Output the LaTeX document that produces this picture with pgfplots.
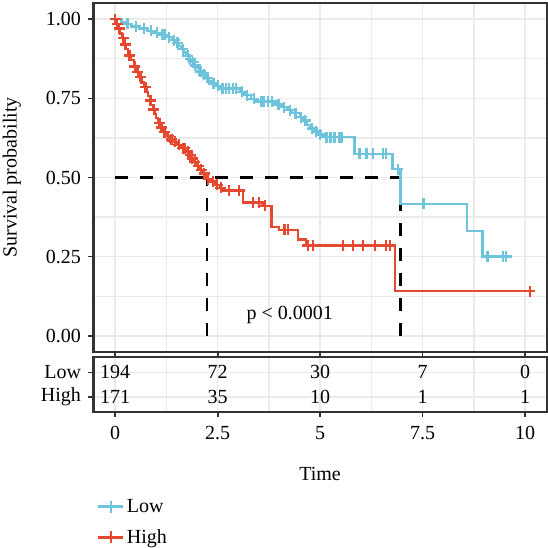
\documentclass[border=0pt]{standalone}
\usepackage{fontspec}
\setmainfont{Liberation Serif}
\usepackage{pgfplots}
\pgfplotsset{compat=1.18}
\definecolor{lowc}{HTML}{6EC4DB}
\definecolor{highc}{HTML}{E5492F}
\definecolor{gridc}{HTML}{EBEBEB}
\definecolor{axc}{HTML}{333333}
\pgfplotsset{
  every axis/.append style={font=\fontsize{20bp}{24bp}\selectfont},
  kmbase/.style={
    scale only axis, width=453bp,
    xmin=-0.53, xmax=10.52,
    xtick={0,2.5,5,7.5,10},
    minor xtick={1.25,3.75,6.25,8.75},
    tick align=outside, xtick pos=bottom, ytick pos=left,
    major tick length=5bp, minor tick length=0bp,
    tick style={line width=1.6bp, color=axc},
    axis line style={line width=2bp, color=axc},
    major grid style={line width=1.5bp, color=gridc},
    minor grid style={line width=1.2bp, color=gridc},
    yticklabel style={xshift=-4bp},
    /pgf/number format/assume math mode=true,
  },
}
\begin{document}
\begin{tikzpicture}
\useasboundingbox (0,0) rectangle (548bp,548bp);
% ---------- main survival panel ----------
\begin{axis}[kmbase,
  at={(93.5bp,196.3bp)}, anchor=south west,
  height=348.4bp,
  ymin=-0.05, ymax=1.05,
  ytick={0,0.25,0.5,0.75,1},
  minor ytick={0.125,0.375,0.625,0.875},
  grid=both,
  xticklabels={},
  yticklabel style={/pgf/number format/.cd, fixed, fixed zerofill, precision=2},
  ylabel={Survival probability},
  ylabel style={at={(axis description cs:-0.18,0.5)}, anchor=center},
]
% median lines
\addplot[black, line width=2.2bp, dash pattern=on 13bp off 12bp] coordinates {(0,0.5) (6.96,0.5)};
\addplot[black, line width=2.2bp, dash pattern=on 13bp off 12bp] coordinates {(2.24,0) (2.24,0.5)};
\addplot[black, line width=2.2bp, dash pattern=on 13bp off 12bp] coordinates {(6.96,0) (6.96,0.5)};
% Low
\addplot[const plot, color=lowc, line width=2.3bp, mark=none] table {
0 1.000
0.15 0.992
0.25 0.985
0.40 0.977
0.60 0.970
0.80 0.963
0.95 0.957
1.10 0.950
1.25 0.943
1.40 0.934
1.48 0.925
1.55 0.915
1.62 0.905
1.68 0.895
1.74 0.884
1.80 0.874
1.86 0.864
1.92 0.854
1.98 0.845
2.05 0.835
2.12 0.825
2.20 0.815
2.28 0.805
2.36 0.797
2.45 0.789
2.55 0.781
3.04 0.770
3.15 0.760
3.32 0.748
3.45 0.740
3.93 0.730
4.05 0.722
4.20 0.712
4.32 0.703
4.50 0.690
4.58 0.680
4.68 0.665
4.75 0.655
4.85 0.645
4.95 0.636
5.05 0.627
5.84 0.575
6.76 0.526
6.96 0.417
8.58 0.332
8.96 0.251
9.66 0.251
};
\addplot[only marks, mark=+, mark size=5.5bp, color=lowc, line width=2.3bp] table {
0.30 0.985
0.50 0.977
0.70 0.970
0.88 0.963
1.02 0.957
1.15 0.950
1.20 0.950
1.32 0.943
1.44 0.934
1.52 0.925
1.65 0.905
1.77 0.884
1.83 0.874
1.90 0.864
1.95 0.854
2.08 0.835
2.16 0.825
2.25 0.815
2.40 0.797
2.50 0.789
2.62 0.781
2.70 0.781
2.78 0.781
2.88 0.781
2.95 0.781
3.10 0.770
3.22 0.760
3.38 0.748
3.55 0.740
3.62 0.740
3.72 0.740
3.82 0.740
3.98 0.730
4.12 0.722
4.26 0.712
4.40 0.703
4.54 0.690
4.63 0.680
4.80 0.655
4.90 0.645
5.00 0.636
5.15 0.627
5.25 0.627
5.35 0.627
5.45 0.627
5.52 0.627
5.96 0.575
6.13 0.575
6.29 0.575
6.53 0.575
6.61 0.575
6.89 0.526
7.52 0.417
9.08 0.251
9.46 0.251
9.54 0.251
};
% High
\addplot[const plot, color=highc, line width=2.3bp, mark=none] table {
0 1.000
0.03 0.985
0.08 0.970
0.12 0.955
0.17 0.940
0.22 0.920
0.27 0.905
0.32 0.885
0.37 0.870
0.45 0.850
0.52 0.834
0.58 0.818
0.64 0.800
0.70 0.785
0.76 0.771
0.80 0.757
0.84 0.743
0.88 0.729
0.92 0.715
0.96 0.701
1.00 0.687
1.05 0.672
1.10 0.658
1.17 0.643
1.25 0.630
1.33 0.620
1.41 0.613
1.50 0.603
1.60 0.593
1.74 0.582
1.80 0.570
1.85 0.560
1.90 0.550
1.98 0.537
2.06 0.524
2.14 0.513
2.19 0.503
2.24 0.495
2.32 0.487
2.43 0.477
2.55 0.467
2.62 0.459
3.11 0.421
3.59 0.411
3.81 0.344
4.00 0.335
4.46 0.304
4.66 0.285
6.82 0.141
10.11 0.141
};
\addplot[only marks, mark=+, mark size=5.5bp, color=highc, line width=2.3bp] table {
0.00 1.000
0.05 0.985
0.10 0.970
0.19 0.940
0.24 0.920
0.35 0.885
0.48 0.850
0.55 0.834
0.62 0.818
0.74 0.785
0.86 0.743
0.94 0.715
1.08 0.672
1.13 0.658
1.20 0.643
1.29 0.630
1.37 0.620
1.45 0.613
1.55 0.603
1.65 0.593
1.70 0.593
1.77 0.582
1.83 0.570
1.88 0.560
1.94 0.550
2.02 0.537
2.10 0.524
2.17 0.513
2.27 0.495
2.38 0.487
2.49 0.477
2.58 0.467
2.77 0.459
3.02 0.459
3.36 0.421
3.50 0.421
3.65 0.411
4.13 0.335
4.21 0.335
4.70 0.285
4.82 0.285
5.56 0.285
5.80 0.285
6.04 0.285
6.33 0.285
6.61 0.285
6.70 0.285
10.11 0.141
};
\node at (axis cs:4.26,0.065) {p < 0.0001};
\end{axis}
% ---------- risk table ----------
\begin{axis}[kmbase,
  at={(93.5bp,136bp)}, anchor=south west,
  height=54.5bp,
  ymin=0.4, ymax=2.6,
  ytick={1,2}, yticklabels={High,Low},
  minor ytick={},
  xmajorgrids, xminorgrids, ymajorgrids,
  xticklabel style={yshift=-6bp},
  xlabel={Time},
  xlabel style={at={(axis description cs:0.5,-1.14)}, anchor=center},
  legend style={at={(axis description cs:0.007,-1.56)}, anchor=north west,
    draw=none, fill=none, inner sep=0pt, row sep=12bp,
    /tikz/every even column/.append style={column sep=9bp}},
  legend cell align=left,
  legend image code/.code={
    \draw[#1, line width=3bp] (0bp,0bp) -- (25bp,0bp);
    \draw[#1, line width=2bp] (12.5bp,-6bp) -- (12.5bp,6bp);},
]
\addplot[forget plot, draw=none, mark=none, nodes near coords, point meta=explicit symbolic,
  nodes near coords align=center] table[meta=n] {
x y n
0 2 194
2.5 2 72
5 2 30
7.5 2 7
10 2 0
0 1 171
2.5 1 35
5 1 10
7.5 1 1
10 1 1
};
\addlegendimage{color=lowc}
\addlegendentry{Low}
\addlegendimage{color=highc}
\addlegendentry{High}
\end{axis}
\end{tikzpicture}
\end{document}
